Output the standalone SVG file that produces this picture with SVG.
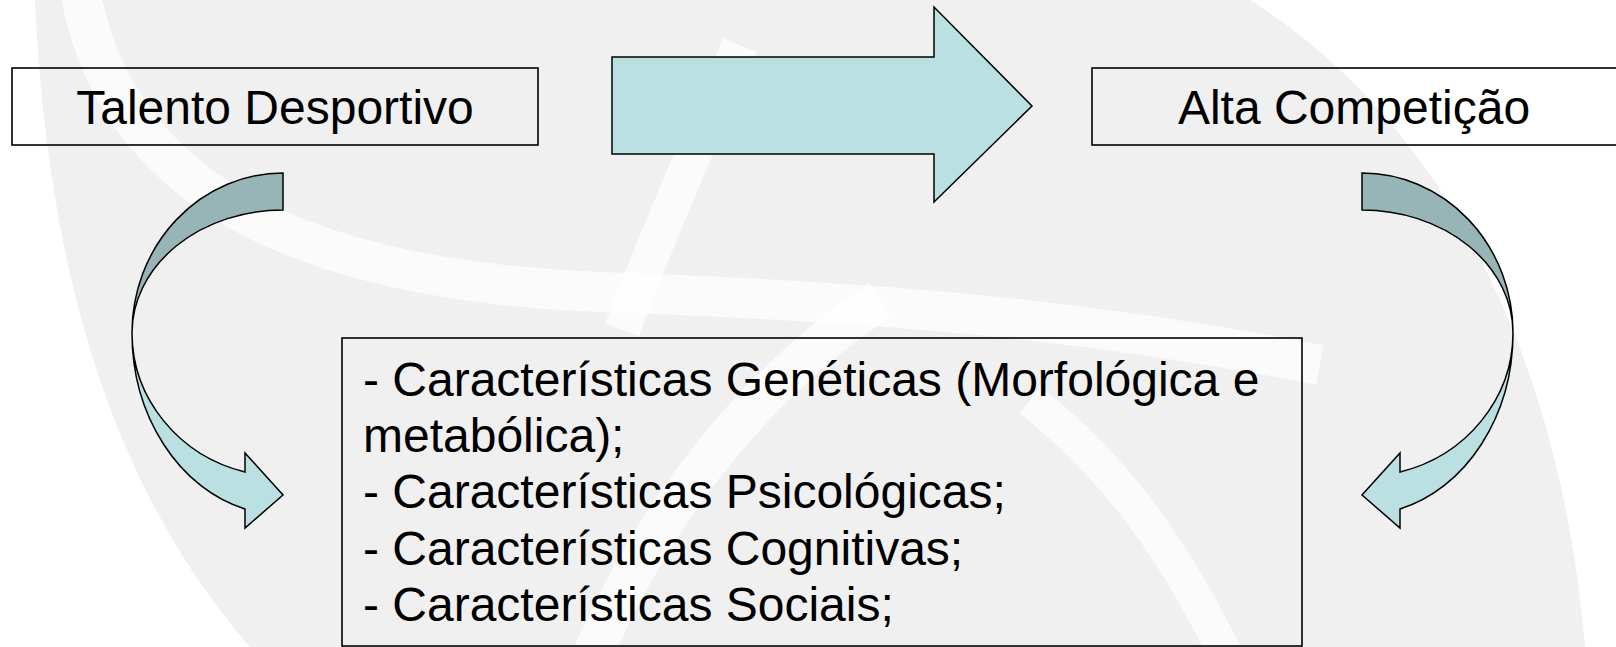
<svg xmlns="http://www.w3.org/2000/svg" width="1616" height="647" viewBox="0 0 1616 647">
  <defs>
    <style>
      .box { fill: none; stroke: #000; stroke-width: 1.6; }
      .lbl { font-family: "Liberation Sans", Arial, sans-serif; font-size: 48px; fill: #000; }
      .light { fill: #BBE0E2; stroke: #000; stroke-width: 1.5; stroke-linejoin: miter; }
      .dark { fill: #97B4B6; stroke: #000; stroke-width: 1.5; }
      .bgband { fill: none; stroke: #FFFFFF; stroke-opacity: 0.75; }
    </style>
  </defs>

  <g id="background">
    <rect x="0" y="0" width="1616" height="647" fill="#FFFFFF"/>
    <path d="M 35,0 L 1250,0 C 1440,120 1560,350 1585,647 L 250,647 C 140,520 50,330 35,0 Z" fill="#F0F0F0"/>
    <path class="bgband" stroke-width="40" d="M 80,-10 C 115,190 300,280 600,292 C 900,302 1100,322 1320,365"/>
    <path class="bgband" stroke-width="36" d="M 740,45 C 700,140 655,240 622,330"/>
    <path class="bgband" stroke-width="40" d="M 590,660 C 660,500 760,380 880,300"/>
    <path class="bgband" stroke-width="34" d="M 1228,660 C 1180,560 1120,470 1030,400"/>
  </g>

  <g id="connectors">
    <g id="arrow-main">
      <polygon class="light" points="612,57 934,57 934,7 1032,106 934,202 934,154 612,154"/>
    </g>
    <g id="arrow-left">
      <path class="dark" d="M 283,173 A 151,160 0 0 0 132,333 A 151,123 0 0 1 283,210 Z"/>
      <path class="light" d="M 132,333 A 151,182 0 0 0 245,509 L 245,528 L 283,495 L 245,453 L 245,472 A 151,144 0 0 1 132,333 Z"/>
    </g>
    <g id="arrow-right" transform="matrix(-1 0 0 1 1645 0)">
      <path class="dark" d="M 283,173 A 151,160 0 0 0 132,333 A 151,123 0 0 1 283,210 Z"/>
      <path class="light" d="M 132,333 A 151,182 0 0 0 245,509 L 245,528 L 283,495 L 245,453 L 245,472 A 151,144 0 0 1 132,333 Z"/>
    </g>
  </g>

  <g id="node-talento">
    <rect class="box" x="12" y="68" width="526" height="77"/>
    <text class="lbl" x="275" y="124" text-anchor="middle">Talento Desportivo</text>
  </g>

  <g id="node-alta">
    <rect class="box" x="1092" y="68" width="530" height="77"/>
    <text class="lbl" x="1354" y="124" text-anchor="middle">Alta Competição</text>
  </g>

  <g id="node-caracteristicas">
    <rect class="box" x="342" y="338" width="960" height="308"/>
    <text class="lbl" x="363" y="396">- Características Genéticas (Morfológica e</text>
    <text class="lbl" x="363" y="452">metabólica);</text>
    <text class="lbl" x="363" y="508">- Características Psicológicas;</text>
    <text class="lbl" x="363" y="564.5">- Características Cognitivas;</text>
    <text class="lbl" x="363" y="620.5">- Características Sociais;</text>
  </g>
</svg>
